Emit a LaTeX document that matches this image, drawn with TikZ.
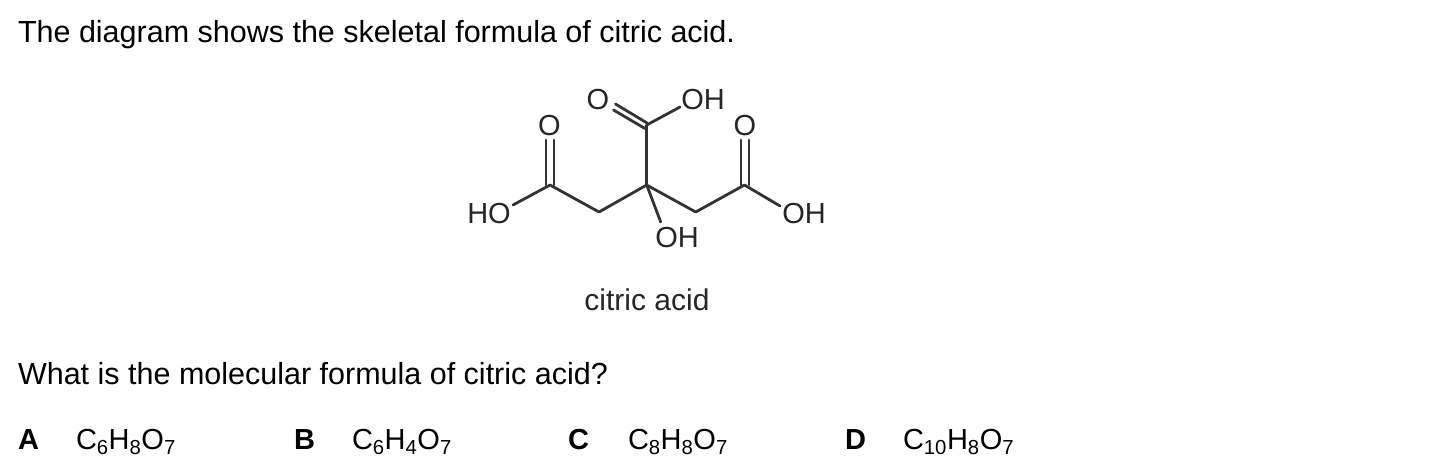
\documentclass[tikz,border=0pt]{standalone}
\usepackage{fontspec}
\setmainfont{Liberation Sans}
\newcommand{\fs}[1]{\fontsize{#1}{#1}\selectfont}
\newcommand{\fml}[2]{C\textsubscript{#1}H\textsubscript{#2}O\textsubscript{7}}
\tikzset{
  txt/.style={anchor=base west,inner sep=0pt,outer sep=0pt,font=\fs{30.5}},
  frm/.style={anchor=base west,inner sep=0pt,outer sep=0pt,font=\fs{29}},
  opt/.style={anchor=base west,inner sep=0pt,outer sep=0pt,font=\fs{29}\bfseries},
  atom/.style={anchor=center,inner sep=0pt,outer sep=0pt,font=\fs{29},text=black!85},
  bond/.style={line width=2.8pt,black!80,line cap=round,line join=round}
}
\begin{document}
\begin{tikzpicture}[x=1pt,y=-1pt]
\useasboundingbox (0,0) rectangle (1447,472);
\node[txt] (title) at (18,42) {The diagram shows the skeletal formula of citric acid.};
\node[txt] (question) at (18,384) {What is the molecular formula of citric acid?};
\node[opt] (a) at (18,449) {A};
\node[frm] (af) at (76,449) {\fml{6}{8}};
\node[opt] (b) at (294,449) {B};
\node[frm] (bf) at (352,449) {\fml{6}{4}};
\node[opt] (c) at (568,449) {C};
\node[frm] (cf) at (628,449) {\fml{8}{8}};
\node[opt] (d) at (845,449) {D};
\node[frm] (df) at (903,449) {\fml{10}{8}};
\node[atom] (otop) at (598,100) {O};
\node[atom] (ohtop) at (703,100) {OH};
\node[atom] (ol) at (549.5,126) {O};
\node[atom] (or) at (745,126) {O};
\node[atom] (hol) at (489,214) {HO};
\node[atom] (ohr) at (804,214) {OH};
\node[atom] (ohb) at (677,238) {OH};
\node[atom,font=\fs{30}] (name) at (647,299.5) {citric acid};
\coordinate (c0) at (646.7,185);
\coordinate (c1) at (646.7,125);
\coordinate (cl) at (550,185);
\coordinate (cr) at (744.5,185);
\coordinate (ml) at (599,212);
\coordinate (mr) at (695.7,212);
\coordinate (etop) at (680,107);
\coordinate (el) at (513,205);
\coordinate (er) at (780,206);
\coordinate (eb) at (660.7,222);
\coordinate (d1a) at (615.5,104);
\coordinate (d1b) at (647,123);
\coordinate (d2a) at (613.5,110);
\coordinate (d2b) at (645,128.5);
\coordinate (l1) at (546,140);
\coordinate (l2) at (554,140);
\coordinate (r1) at (741,140);
\coordinate (r2) at (749,140);
\draw[bond] (c0) -- (c1);
\draw[bond] (c1) -- (etop);
\draw[bond] (d1a) -- (d1b);
\draw[bond] (d2a) -- (d2b);
\draw[bond] (el) -- (cl) -- (ml) -- (c0) -- (mr) -- (cr) -- (er);
\draw[bond] (c0) -- (eb);
\draw[bond] (l1) -- (l1 |- cl);
\draw[bond] (l2) -- (l2 |- cl);
\draw[bond] (r1) -- (r1 |- cr);
\draw[bond] (r2) -- (r2 |- cr);
\end{tikzpicture}
\end{document}
